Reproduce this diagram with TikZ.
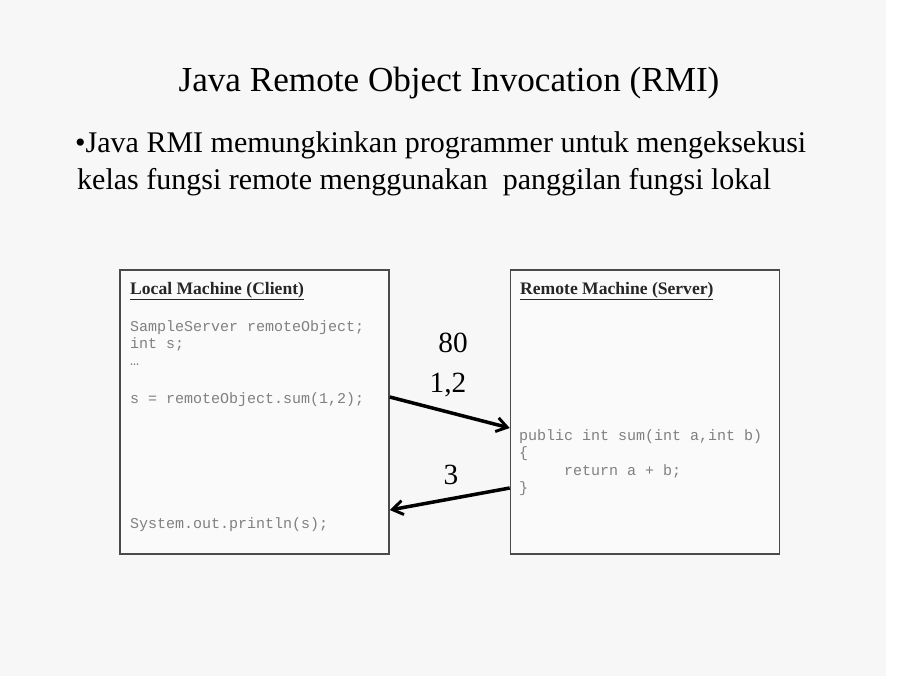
\documentclass[tikz,border=0pt]{standalone}
\usepackage{fontspec}
\setmainfont{Liberation Serif}
\setmonofont{Liberation Mono}
\usetikzlibrary{arrows.meta,positioning}
\definecolor{slidebg}{HTML}{F7F7F7}
\definecolor{boxfill}{HTML}{FAFAFA}
\definecolor{boxline}{HTML}{4A4A4A}
\definecolor{codegray}{HTML}{808080}
\tikzset{
  machine/.style={draw=boxline, line width=1.3pt, fill=boxfill,
    minimum width=8.07cm, minimum height=8.52cm},
  heading/.style={anchor=base west, inner sep=0pt, text=black!85,
    font=\bfseries\fontsize{15}{17}\selectfont},
  codeline/.style={anchor=base west, inner sep=0pt, text=codegray,
    font=\ttfamily\fontsize{12.8}{15}\selectfont},
  msg/.style={line width=3pt, -{Straight Barb[length=9pt,width=12pt,line width=2.5pt]}},
  numlabel/.style={inner sep=0pt, font=\fontsize{25}{28}\selectfont}
}
\begin{document}
\begin{tikzpicture}[x=0.03cm, y=-0.03cm]
\useasboundingbox (0,0) rectangle (900,676);
\fill[white] (0,0) rectangle (900,676);
\fill[slidebg] (0,0) rectangle (886,676);

% slide text
\node[anchor=base, inner sep=0pt, font=\fontsize{30}{34}\selectfont] (title) at (449,92)
  {Java Remote Object Invocation (RMI)};
\node[anchor=base west, inner sep=0pt, font=\fontsize{25.6}{30}\selectfont] (bullet1) at (75,153)
  {•Java RMI memungkinkan programmer untuk mengeksekusi};
\node[anchor=base west, inner sep=0pt, font=\fontsize{25.6}{30}\selectfont] (bullet2) at (77,189)
  {kelas fungsi remote menggunakan\ \ panggilan fungsi lokal};

% the two machines
\node[machine] (client) at (254.5,412) {};
\node[machine] (server) at (645,412) {};
\node[heading] (clienthead) at (130,294) {\underline{Local Machine (Client)}};
\node[heading] (serverhead) at (520,294) {\underline{Remote Machine (Server)}};

% client code
\node[codeline] (decl) at (130,331) {SampleServer remoteObject;};
\node[codeline] (intdecl) at (130,348) {int s;};
\node[codeline] (dots) at (130,365) {…};
\node[codeline] (call) at (130,403) {s = remoteObject.sum(1,2);};
\node[codeline] (print) at (130,528) {System.out.println(s);};

% server code
\node[codeline] (sig) at (519,440) {public int sum(int a,int b)};
\node[codeline] (open) at (519,457) {\{};
\node[codeline] (ret) at (519,475) {\ \ \ \ \ return a + b;};
\node[codeline] (close) at (519,492) {\}};

% messages
\coordinate (callout) at (client.east |- 0,397);
\coordinate (callin) at (server.west |- 0,428);
\coordinate (retout) at (server.west |- 0,488);
\coordinate (retin) at (client.east |- 0,510);
\draw[msg] (callout) -- (callin);
\draw[msg] (retout) -- (retin);
\node[numlabel] (port) at (453,343) {80};
\node[numlabel] (args) at (448,385) {1,2};
\node[numlabel] (result) at (451,475) {3};
\end{tikzpicture}
\end{document}
